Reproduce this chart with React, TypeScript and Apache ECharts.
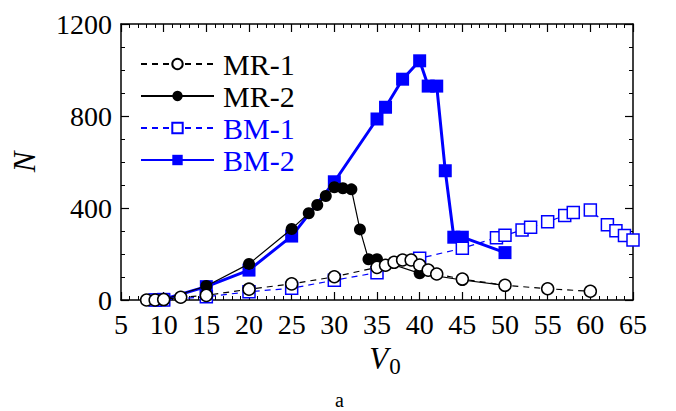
import React, { useEffect, useRef } from "react";
import * as echarts from "echarts";

const mr1X = [8, 9, 10, 12, 15, 20, 25, 30, 35, 36, 37, 38, 39, 40, 41, 42, 45, 50, 55, 60];
const mr1Y = [0, 0, 2, 12, 20, 47, 70, 101, 142, 151, 164, 174, 174, 152, 130, 113, 91, 64, 49, 38];
const mr2X = [8, 9, 10, 15, 20, 25, 27, 28, 29, 30, 31, 32, 33, 34, 35, 40, 45, 50];
const mr2Y = [0, 0, 2, 61, 157, 309, 377, 413, 452, 490, 486, 481, 307, 177, 177, 116, 87, 64];
const bm1X = [9, 10, 15, 20, 25, 30, 35, 40, 45, 49, 50, 52, 53, 55, 57, 58, 60, 62, 63, 64, 65];
const bm1Y = [0, 0, 14, 36, 51, 86, 119, 181, 225, 271, 281, 304, 316, 340, 367, 380, 391, 327, 301, 280, 261];
const bm2X = [9, 10, 15, 20, 25, 30, 35, 36, 38, 40, 41, 42, 43, 44, 45, 50];
const bm2Y = [0, 3, 58, 130, 278, 514, 787, 838, 960, 1040, 930, 930, 562, 273, 273, 206];

const seriesNames = ["MR-1", "MR-2", "BM-1", "BM-2"];
const xTicks = { min: 5, max: 65, interval: 5 };
const yTicks = { min: 0, max: 1200, interval: 400 };

const BLUE = "#0000ff";
const FONT = "Liberation Serif";

const zip = (xs: number[], ys: number[]) => xs.map((x, i) => [x, ys[i]]);

export default function App() {
  const ref = useRef<HTMLDivElement>(null);
  useEffect(() => {
    if (!ref.current) return;
    const chart = echarts.init(ref.current, null, { renderer: "svg" });
    const axisCommon = {
      axisLine: { show: true, onZero: false, lineStyle: { color: "#000", width: 1.5 } },
      axisTick: { show: true, inside: true, length: 8, lineStyle: { color: "#000", width: 1.2 } },
      splitLine: { show: false },
    };
    const xBase = {
      type: "value",
      min: xTicks.min,
      max: xTicks.max,
      interval: xTicks.interval,
      ...axisCommon,
      minorTick: { show: true, splitNumber: 5, length: 4, lineStyle: { color: "#000", width: 1 } },
    };
    const yBase = {
      type: "value",
      min: yTicks.min,
      max: yTicks.max,
      interval: yTicks.interval,
      ...axisCommon,
      minorTick: { show: true, splitNumber: 4, length: 4, lineStyle: { color: "#000", width: 1 } },
    };
    chart.setOption({
      animation: false,
      backgroundColor: "#fff",
      textStyle: { fontFamily: FONT },
      grid: { left: 121, right: 43, top: 24, bottom: 111, containLabel: false, outerBoundsMode: "none" },
      legend: {
        orient: "vertical",
        left: 140,
        top: 49,
        padding: 0,
        itemWidth: 73,
        itemHeight: 13,
        itemGap: 2,
        textStyle: { fontFamily: FONT, fontSize: 30, padding: [0, 0, 0, 4] },
        data: seriesNames.map((n, i) => ({
          name: n,
          textStyle: { color: i < 2 ? "#000" : BLUE, fontFamily: FONT, fontSize: 30, padding: [0, 0, 0, 4] },
        })),
      },
      xAxis: [
        {
          ...xBase,
          position: "bottom",
          axisLabel: { show: true, margin: 10, color: "#000", fontFamily: FONT, fontSize: 28, formatter: (v: number) => String(v) },
          name: "{i|V}{s|0}",
          nameLocation: "middle",
          nameGap: 39,
          nameTextStyle: {
            fontFamily: FONT,
            rich: {
              i: { fontFamily: FONT, fontStyle: "italic", fontSize: 31, color: "#000", padding: [0, 0, 0, 16] },
              s: { fontFamily: FONT, fontSize: 23, color: "#000", verticalAlign: "bottom", padding: [16, 0, 0, 1] },
            },
          },
        },
        { ...xBase, position: "top", axisLabel: { show: false } },
      ],
      yAxis: [
        {
          ...yBase,
          position: "left",
          axisLabel: { show: true, margin: 9, color: "#000", fontFamily: FONT, fontSize: 28, formatter: (v: number) => String(v) },
          name: "N",
          nameLocation: "middle",
          nameGap: 81,
          nameTextStyle: { fontFamily: FONT, fontStyle: "italic", fontSize: 31, color: "#000" },
        },
        { ...yBase, position: "right", axisLabel: { show: false } },
      ],
      graphic: [
        {
          type: "text",
          left: 335,
          top: 390,
          style: { text: "a", fontFamily: FONT, fontSize: 20, fill: "#000" },
        },
      ],
      series: [
        {
          name: "BM-2",
          type: "line",
          data: zip(bm2X, bm2Y),
          symbol: "rect",
          symbolSize: 13,
          color: BLUE,
          lineStyle: { color: BLUE, width: 3, type: "solid" },
          itemStyle: { color: BLUE, borderColor: BLUE, borderWidth: 0 },
          z: 2,
        },
        {
          name: "BM-1",
          type: "line",
          data: zip(bm1X, bm1Y),
          symbol: "rect",
          symbolSize: 12,
          color: BLUE,
          lineStyle: { color: BLUE, width: 1.2, type: [6, 5] },
          itemStyle: { color: "#fff", borderColor: BLUE, borderWidth: 1.5 },
          z: 3,
        },
        {
          name: "MR-2",
          type: "line",
          data: zip(mr2X, mr2Y),
          symbol: "circle",
          symbolSize: 12,
          color: "#000",
          lineStyle: { color: "#000", width: 1.2, type: "solid" },
          itemStyle: { color: "#000", borderColor: "#000", borderWidth: 0 },
          z: 4,
        },
        {
          name: "MR-1",
          type: "line",
          data: zip(mr1X, mr1Y),
          symbol: "circle",
          symbolSize: 12,
          color: "#000",
          lineStyle: { color: "#000", width: 1.2, type: [6, 5] },
          itemStyle: { color: "#fff", borderColor: "#000", borderWidth: 1.5 },
          z: 5,
        },
      ],
    });
    return () => chart.dispose();
  }, []);
  return (
    <div
      ref={ref}
      style={{ position: "absolute", left: 0, top: 0, width: 676, height: 411 }}
    />
  );
}
